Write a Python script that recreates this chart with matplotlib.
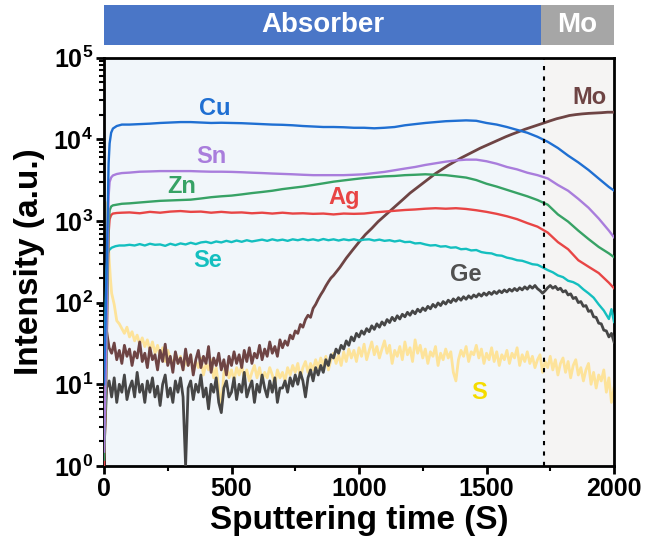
import numpy as np
import matplotlib
matplotlib.use("Agg")
import matplotlib.pyplot as plt
from matplotlib.patches import Rectangle

plt.rcParams['font.family'] = ['Liberation Sans', 'DejaVu Sans']
plt.rcParams['font.weight'] = 'bold'
plt.rcParams['mathtext.fontset'] = 'custom'
plt.rcParams['mathtext.rm'] = 'Liberation Sans:bold'
plt.rcParams['mathtext.bf'] = 'Liberation Sans:bold'
plt.rcParams['mathtext.it'] = 'Liberation Sans:bold:italic'

# ---------------- data ----------------
smooth_t = [0, 8, 14, 18, 22, 28, 35, 50, 70,
            100, 140, 180, 220, 260, 300, 340, 380, 420, 460, 500, 540, 580, 620, 660, 700,
            740, 780, 820, 860, 900, 940, 980, 1020, 1060, 1100, 1140, 1180, 1220, 1260, 1300,
            1340, 1380, 1420, 1460, 1500, 1540, 1580, 1620, 1660, 1700, 1740, 1780, 1820, 1860,
            1900, 1940, 1980, 2000]

cu = [10, 100, 1000, 5000, 8900, 12000, 13500, 14500, 15100,
      15100, 15300, 15500, 15800, 16000, 16200, 16200, 16000, 15800, 15900, 15800, 15700, 15500, 15300, 15100, 15000,
      14800, 14500, 14300, 14100, 14100, 14000, 13800, 13800, 13600, 13800, 14100, 14800, 15300, 15800, 16200,
      16600, 16800, 17000, 16800, 15800, 15100, 14100, 13000, 12000, 10700, 9300, 7800, 6300, 5200,
      4200, 3300, 2600, 2350]

sn = [1.5, 20, 500, 2000, 3000, 3400, 3600, 3750, 3850,
      3900, 4000, 4030, 4070, 4070, 4070, 4070, 4030, 4000, 4000, 3980, 3940, 3890, 3850, 3800, 3760,
      3720, 3670, 3630, 3630, 3630, 3630, 3670, 3720, 3850, 3980, 4170, 4370, 4570, 4840, 5070,
      5310, 5500, 5620, 5620, 5370, 5010, 4570, 4270, 3890, 3630, 3310, 2750, 2340, 1860,
      1450, 1070, 760, 630]

zn = [1.2, 10, 200, 900, 1350, 1500, 1550, 1580, 1620,
      1640, 1680, 1720, 1760, 1780, 1800, 1820, 1880, 1950, 2000, 2040, 2110, 2190, 2260, 2340, 2450,
      2540, 2630, 2750, 2880, 3020, 3130, 3240, 3350, 3430, 3510, 3550, 3630, 3670, 3720, 3670,
      3630, 3510, 3390, 3160, 2850, 2630, 2400, 2190, 2000, 1800, 1580, 1200, 980, 760,
      600, 480, 400, 360]

ag = [1.0, 8, 150, 700, 1050, 1180, 1230, 1250, 1260,
      1270, 1240, 1290, 1260, 1300, 1320, 1290, 1300, 1260, 1290, 1260, 1270, 1240, 1260, 1230, 1260,
      1230, 1240, 1220, 1230, 1200, 1230, 1220, 1230, 1270, 1300, 1330, 1360, 1380, 1410, 1430,
      1410, 1430, 1400, 1350, 1290, 1220, 1140, 1050, 940, 850, 720, 550, 450, 330,
      275, 230, 175, 150]

se_t = [0, 5, 10, 15, 20, 30, 45, 60] + list(range(80, 2000, 20)) + [1990, 2000]
se = [15, 60, 250, 400, 440, 470, 490, 500,
      500, 510, 500, 520, 500, 525, 510, 515, 495, 525, 505, 530, 515, 540, 520, 545, 555, 535, 560, 545,
      570, 550, 575, 555, 580, 560, 575, 590, 570, 595, 575, 590, 570, 595, 580, 600, 580, 595, 575, 600,
      580, 595, 575, 595, 580, 595, 575, 590, 595, 575, 590, 570, 580, 560, 575, 550, 555, 530, 535, 515,
      500, 505, 485, 490, 470, 475, 450, 455, 435, 440, 415, 405, 400, 380, 375, 355, 345, 330, 325, 310,
      295, 290, 270, 250, 235, 215, 205, 185, 178, 165, 145, 130, 115, 95, 80, 63,
      83, 58]

ge_t = list(range(0, 2001, 10))
ge = [1.5, 9, 11, 7, 12, 6, 10, 8, 13, 6.5,
      9, 11, 7, 14, 8, 10, 6, 11, 8, 12,
      7, 9.5, 5.5, 10, 13, 7, 9, 6, 11, 8,
      12, 7, 1.0, 9, 11, 6.5, 10, 8, 13, 7,
      9, 5, 10, 8, 12, 6, 4.5, 9, 11, 7,
      8, 12, 6.5, 10, 8, 14, 7, 9, 11, 6,
      10, 8, 13, 9, 7, 11, 8, 12, 6, 9,
      9, 11, 8, 12, 9.5, 13, 10, 14, 11, 7,
      12, 15, 11, 16, 13, 17, 14, 20, 17, 23,
      21, 27, 24, 30, 27, 34, 30, 38, 34, 42,
      38, 45, 41, 48, 44, 52, 47, 55, 50, 58,
      53, 62, 57, 66, 60, 69, 63, 72, 67, 76,
      70, 79, 73, 83, 77, 86, 80, 90, 84, 95,
      88, 99, 92, 103, 96, 107, 100, 111, 104, 115,
      107, 118, 110, 121, 113, 124, 117, 128, 120, 131,
      123, 134, 126, 137, 129, 140, 132, 143, 135, 146,
      138, 149, 140, 152, 143, 156, 146, 160, 150, 162,
      148, 140, 130, 140, 152, 162, 150, 158, 144, 150,
      135, 140, 124, 128, 112, 116, 100, 103, 90, 92,
      78, 80, 67, 66, 56, 55, 46, 45, 38, 42,
      33]

mo_t = [0, 5] + list(range(10, 901, 10)) + list(range(925, 2001, 25))
mo = [1.5, 60,
      45, 28, 24, 32, 20, 26, 18, 30, 22, 27,
      17, 25, 21, 33, 19, 24, 16, 28, 20, 23,
      15, 26, 19, 31, 17, 22, 14, 25, 18, 21,
      15, 27, 17, 23, 13, 20, 26, 16, 22, 18,
      29, 14, 21, 17, 24, 15, 20, 13, 22, 17,
      25, 18, 23, 16, 26, 19, 28, 18, 24, 21,
      30, 20, 27, 22, 33, 24, 29, 22, 35, 28,
      34, 30, 40, 36, 45, 42, 54, 50, 62, 70,
      66, 85, 95, 110, 125, 140, 160, 180, 200, 215,
      270, 350, 440, 550, 680, 810, 980, 1150, 1350, 1580,
      1860, 2190, 2510, 2880, 3310, 3800, 4270, 4790, 5310, 5890,
      6460, 7080, 7760, 8410, 9120, 9890, 10700, 11500, 12300, 13200,
      14000, 14800, 15800, 16800, 17800, 18600, 19500, 20000, 20400, 20700,
      20900, 21100, 21400, 21400]

s_t = [0, 5, 10, 15, 20, 25, 30] + list(range(40, 2001, 10))
s = [1700, 1700, 1500, 800, 350, 200, 130,
     95, 60, 55, 48, 42, 50, 38, 44, 34, 40,
     31, 37, 29, 35, 26, 33, 24, 30, 22, 28,
     19, 26, 21, 17, 24, 18, 22, 15, 20, 17,
     23, 14, 19, 16, 21, 13, 18, 15, 20, 12,
     16, 9, 5, 14, 17, 12, 15, 11, 16, 13,
     17, 12, 15, 11, 14, 17, 12, 16, 11, 14,
     12, 16, 13, 10, 15, 12, 14, 11, 16, 13,
     17, 14, 18, 12, 16, 19, 14, 18, 15, 20,
     16, 21, 17, 22, 15, 20, 24, 18, 23, 17,
     25, 19, 27, 21, 26, 19, 28, 22, 31, 20,
     26, 33, 23, 29, 21, 27, 34, 24, 30, 18,
     26, 22, 29, 20, 33, 23, 28, 19, 35, 24,
     30, 21, 27, 18, 25, 22, 29, 17, 24, 20,
     27, 21, 25, 14, 11, 20, 26, 22, 29, 19,
     25, 23, 30, 21, 27, 18, 24, 20, 28, 19,
     25, 17, 23, 20, 26, 18, 24, 21, 28, 17,
     23, 19, 25, 18, 22, 16, 20, 23, 14, 19,
     16, 22, 15, 20, 13, 18, 21, 14, 19, 12,
     17, 20, 13, 16, 11, 15, 18, 10, 14, 9,
     13, 11, 15, 8, 12, 6, 9]

labels = ['Cu', 'Sn', 'Zn', 'Ag', 'Se', 'Ge', 'S', 'Mo']
label_t = [435, 420, 305, 940, 405, 1420, 1470, 1905]
label_v = [23500, 6200, 2650, 1950, 330, 220, 8.0, 32000]

xticks = [0, 500, 1000, 1500, 2000]
yticks = [1, 10, 100, 1000, 10000, 100000]
ytick_labels = [r'$\mathbf{10^{0}}$', r'$\mathbf{10^{1}}$', r'$\mathbf{10^{2}}$',
                r'$\mathbf{10^{3}}$', r'$\mathbf{10^{4}}$', r'$\mathbf{10^{5}}$']
boundary_t = 1725
bar_split_t = 1715

# ---------------- styling ----------------
c_cu, c_sn, c_zn, c_ag = '#1f6fd2', '#a97ddc', '#37a265', '#e84545'
c_se, c_ge, c_mo, c_s = '#14bfbf', '#464646', '#6e4444', '#fde39a'
label_colors = [c_cu, c_sn, '#37a265', c_ag, c_se, '#505050', '#f5dc00', c_mo]

fig = plt.figure(figsize=(6.46, 5.44), dpi=100)
ax = fig.add_axes([104/646, 1-466/544, 510/646, (466-57.5)/544])

ax.axvspan(0, boundary_t, color='#f1f6fa', zorder=0, lw=0)
ax.axvspan(boundary_t, 2000, color='#f5f4f3', zorder=0, lw=0)

lw = 1.7
ax.plot(s_t, s, color=c_s, lw=2.0, zorder=2)
ax.plot(ge_t, ge, color=c_ge, lw=2.0, zorder=3)
ax.plot(mo_t, mo, color=c_mo, lw=2.0, zorder=3)
ax.plot(se_t, se, color=c_se, lw=lw, zorder=4)
ax.plot(smooth_t, ag, color=c_ag, lw=lw, zorder=4)
ax.plot(smooth_t, zn, color=c_zn, lw=lw, zorder=4)
ax.plot(smooth_t, sn, color=c_sn, lw=lw, zorder=4)
ax.plot(smooth_t, cu, color=c_cu, lw=lw, zorder=4)

ax.axvline(boundary_t, color='black', ls=(0, (2, 3)), lw=1.5, zorder=5)

for lab, tx, vy, col in zip(labels, label_t, label_v, label_colors):
    ax.text(tx, vy, lab, color=col, fontsize=17, fontweight='bold',
            ha='center', va='center', zorder=6)

ax.set_yscale('log')
ax.set_xlim(0, 2000)
ax.set_ylim(1, 100000)
ax.set_xticks(xticks)
ax.set_xticklabels([str(v) for v in xticks])
ax.set_xticks([250, 750, 1250, 1750], minor=True)
ax.set_yticks(yticks)
ax.set_yticklabels(ytick_labels)

for sp in ax.spines.values():
    sp.set_linewidth(2)
ax.tick_params(axis='both', which='major', direction='out', length=6, width=2,
               labelsize=18, pad=2)
ax.tick_params(axis='both', which='minor', direction='out', length=3.5, width=1.5)
for lbl in ax.get_xticklabels():
    lbl.set_fontweight('bold')

ax.set_xlabel('Sputtering time (S)', fontsize=24, fontweight='bold', labelpad=3)
ax.set_ylabel('Intensity (a.u.)', fontsize=24, fontweight='bold', labelpad=6)

# top bar
bax = fig.add_axes([104/646, 1-45/544, 510/646, 40/544])
bax.set_xlim(0, 2000)
bax.set_ylim(0, 1)
bax.axis('off')
bax.add_patch(Rectangle((0, 0), bar_split_t, 1, color='#4a76c7', lw=0))
bax.add_patch(Rectangle((bar_split_t, 0), 2000 - bar_split_t, 1, color='#a6a6a6', lw=0))
bax.text(bar_split_t / 2, 0.5, 'Absorber', color='white', fontsize=20,
         fontweight='bold', ha='center', va='center')
bax.text((bar_split_t + 2000) / 2, 0.5, 'Mo', color='white', fontsize=20,
         fontweight='bold', ha='center', va='center')

fig.savefig('out.png', dpi=100)
